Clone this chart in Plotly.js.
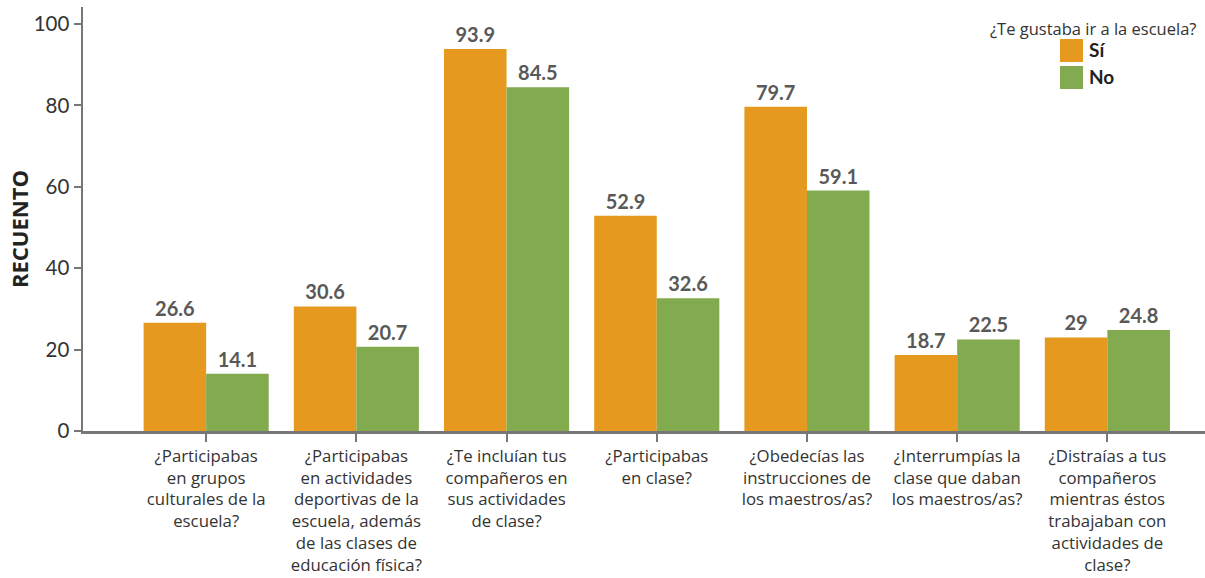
<!DOCTYPE html>
<html>
<head>
<meta charset="utf-8">
<script src="https://cdn.plot.ly/plotly-3.0.1.min.js"></script>
<style>html,body{margin:0;padding:0;background:#fff}#chart{width:1205px;height:578px}</style>
</head>
<body>
<div id="chart"></div>
<script>
const categories = [
  "¿Participabas<br>en grupos<br>culturales de la<br>escuela?",
  "¿Participabas<br>en actividades<br>deportivas de la<br>escuela, además<br>de las clases de<br>educación física?",
  "¿Te incluían tus<br>compañeros en<br>sus actividades<br>de clase?",
  "¿Participabas<br>en clase?",
  "¿Obedecías las<br>instrucciones de<br>los maestros/as?",
  "¿Interrumpías la<br>clase que daban<br>los maestros/as?",
  "¿Distraías a tus<br>compañeros<br>mientras éstos<br>trabajaban con<br>actividades de<br>clase?"
];
const siValues = [26.6, 30.6, 93.9, 52.9, 79.7, 18.7, 23.0];
const siLabels = ["26.6", "30.6", "93.9", "52.9", "79.7", "18.7", "29"];
const noValues = [14.1, 20.7, 84.5, 32.6, 59.1, 22.5, 24.8];
const noLabels = ["14.1", "20.7", "84.5", "32.6", "59.1", "22.5", "24.8"];
const seriesNames = ["Sí", "No"];
const legendTitle = "¿Te gustaba ir a la escuela?";
const yTitle = "RECUENTO";
const yTicks = [0, 20, 40, 60, 80, 100];

const ORANGE = "#E5991E", GREEN = "#82AA4E";
const FONT = "Lato, 'Open Sans', sans-serif";
const CATFONT = "'Open Sans', Lato, sans-serif";
const xIdx = categories.map((c, i) => i);

const labelFont = {family: FONT, size: 20, color: "#595959", weight: "bold"};
const traces = [
  {type: "bar", name: seriesNames[0], x: xIdx, y: siValues, text: siLabels,
   textposition: "outside", constraintext: "none", cliponaxis: false,
   textfont: labelFont, marker: {color: ORANGE}, hoverinfo: "skip"},
  {type: "bar", name: seriesNames[1], x: xIdx, y: noValues, text: noLabels,
   textposition: "outside", constraintext: "none", cliponaxis: false,
   textfont: labelFont, marker: {color: GREEN}, hoverinfo: "skip"}
];

const px = v => (v - 83) / 1122;
const py = v => (431 - v) / 424;

const layout = {
  width: 1205, height: 578,
  margin: {l: 83, r: 0, t: 7, b: 147},
  paper_bgcolor: "#fff", plot_bgcolor: "#fff",
  showlegend: false,
  barmode: "group", bargap: 0.167, bargroupgap: 0,
  font: {family: FONT, color: "#333"},
  xaxis: {
    range: [-0.82, 6.65], tickmode: "array", tickvals: xIdx, ticktext: categories,
    showline: true, linecolor: "#777", linewidth: 2.5,
    ticks: "outside", ticklen: 8, tickwidth: 2, tickcolor: "#777",
    tickfont: {family: CATFONT, size: 16.8, color: "#333"},
    showgrid: false, zeroline: false, fixedrange: true
  },
  yaxis: {
    range: [0, 104.2], tickmode: "array", tickvals: yTicks,
    showline: true, linecolor: "#777", linewidth: 2.5,
    ticks: "outside", ticklen: 7, tickwidth: 2, tickcolor: "#777",
    tickfont: {family: FONT, size: 20.5, color: "#333"},
    showgrid: false, zeroline: false, fixedrange: true
  },
  shapes: [
    {type: "rect", xref: "paper", yref: "paper", x0: px(1060), x1: px(1083),
     y0: py(62), y1: py(39), fillcolor: ORANGE, line: {width: 0}},
    {type: "rect", xref: "paper", yref: "paper", x0: px(1060), x1: px(1083),
     y0: py(89), y1: py(66), fillcolor: GREEN, line: {width: 0}}
  ],
  annotations: [
    {xref: "paper", yref: "paper", x: px(19), y: py(229), text: yTitle, textangle: -90,
     showarrow: false, xanchor: "center", yanchor: "middle",
     font: {family: CATFONT, size: 22, color: "#222", weight: "bold"}},
    {xref: "paper", yref: "paper", x: px(1093), y: py(28), text: legendTitle,
     showarrow: false, xanchor: "center", yanchor: "middle",
     font: {family: CATFONT, size: 16.5, color: "#333"}},
    {xref: "paper", yref: "paper", x: px(1087), y: py(50), text: seriesNames[0],
     showarrow: false, xanchor: "left", yanchor: "middle",
     font: {family: FONT, size: 19, color: "#222", weight: "bold"}},
    {xref: "paper", yref: "paper", x: px(1087), y: py(76), text: seriesNames[1],
     showarrow: false, xanchor: "left", yanchor: "middle",
     font: {family: FONT, size: 19, color: "#222", weight: "bold"}}
  ]
};

Plotly.newPlot("chart", traces, layout, {displayModeBar: false, staticPlot: true});
</script>
</body>
</html>
